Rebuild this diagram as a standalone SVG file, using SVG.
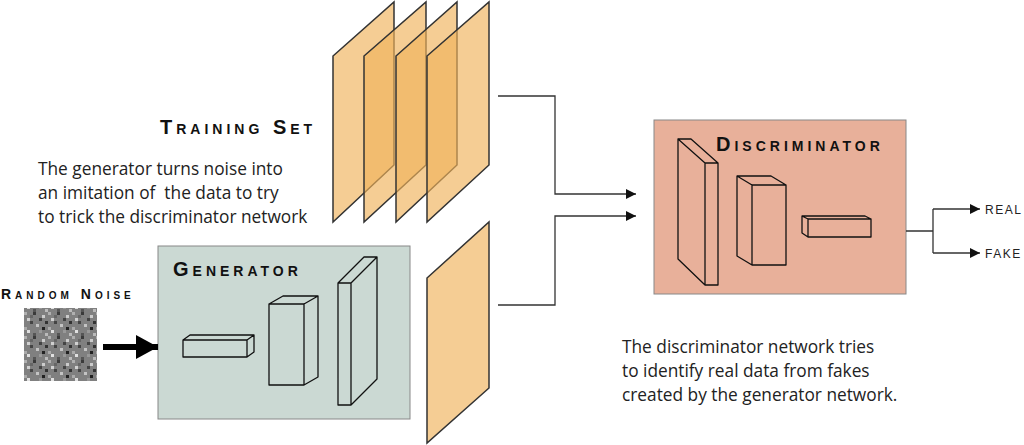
<svg xmlns="http://www.w3.org/2000/svg" width="1024" height="445" viewBox="0 0 1024 445">
<style>
.pl{fill:#f0b25a;fill-opacity:0.65;stroke:#333;stroke-width:1.5}
.sh{fill:none;stroke:#111;stroke-width:1.3;stroke-linejoin:round}
.ttl{font-family:"Liberation Sans",Arial,sans-serif;font-variant:small-caps;font-weight:bold;letter-spacing:4px;fill:#111}
.txt{font-family:"Open Sans","Liberation Sans",sans-serif;font-size:17.3px;fill:#222}
.ln{fill:none;stroke:#333;stroke-width:1.3}
.sm{font-family:"Liberation Sans",Arial,sans-serif;font-size:12px;letter-spacing:1.5px;fill:#222}
</style>
<defs>
<marker id="ah" viewBox="0 0 10 10" refX="10" refY="5" markerWidth="10" markerHeight="10" markerUnits="userSpaceOnUse" orient="auto"><path d="M0,0L10,5L0,10z" fill="#111"/></marker>
<marker id="big" viewBox="0 0 10 10" refX="10" refY="5" markerWidth="22" markerHeight="24" markerUnits="userSpaceOnUse" orient="auto" preserveAspectRatio="none"><path d="M0,0L10,5L0,10z" fill="#000"/></marker>
<pattern id="nz" width="24" height="24" patternUnits="userSpaceOnUse">
<rect width="24" height="24" fill="#808080"/>
<rect x="0" y="0" width="3" height="3" fill="#b0b0b0"/><rect x="9" y="0" width="3" height="3" fill="#3a3a3a"/><rect x="18" y="3" width="3" height="3" fill="#ccc"/>
<rect x="3" y="6" width="3" height="3" fill="#d0d0d0"/><rect x="15" y="6" width="3" height="3" fill="#444"/><rect x="21" y="9" width="3" height="3" fill="#333"/>
<rect x="6" y="9" width="3" height="3" fill="#444"/><rect x="12" y="12" width="3" height="3" fill="#c4c4c4"/><rect x="0" y="15" width="3" height="3" fill="#aaa"/>
<rect x="18" y="15" width="3" height="3" fill="#222"/><rect x="3" y="18" width="3" height="3" fill="#e0e0e0"/><rect x="9" y="21" width="3" height="3" fill="#555"/>
<rect x="21" y="21" width="3" height="3" fill="#bbb"/><rect x="15" y="18" width="3" height="3" fill="#999"/><rect x="6" y="3" width="3" height="3" fill="#666"/>
</pattern>
</defs>
<g id="training-set">
<polygon class="pl" points="333,56 394,2 394,165 333,222"/>
<polygon class="pl" points="364,56 426,2 426,165 364,222"/>
<polygon class="pl" points="396,56 457,2 457,165 396,222"/>
<polygon class="pl" points="427,56 489,2 489,165 427,222"/>
<text class="ttl" x="160" y="134" font-size="20">Training Set</text>
</g>
<g id="fake-sample"><polygon class="pl" points="427,278 489,222 489,388 427,443"/></g>
<text class="txt" x="38" y="175" xml:space="preserve">The generator turns noise into</text>
<text class="txt" x="38" y="199" xml:space="preserve">an imitation of  the data to try</text>
<text class="txt" x="38" y="223" xml:space="preserve">to trick the discriminator network</text>
<g id="random-noise">
<text class="ttl" x="1" y="299" font-size="14" letter-spacing="1.6">Random Noise</text>
<rect x="24" y="308" width="73" height="73" fill="url(#nz)"/>
</g>
<g id="generator">
<rect x="158" y="246" width="252" height="173" fill="#cbd9d3" stroke="#888" stroke-width="1"/>
<text class="ttl" x="173" y="276" font-size="20">Generator</text>
<path class="sh" d="M183,340h64v17h-64zM183,340l7,-5h64l-7,5M247,357l7,-5v-17"/>
<path class="sh" d="M269,304h35v81h-35zM269,304l14,-8h35l-14,8M304,385l14,-8v-81"/>
<path class="sh" d="M338,283h13v122h-13zM338,283l26,-26h13l-26,26M351,405l26,-26v-122"/>
</g>
<g id="discriminator">
<rect x="654" y="120" width="252" height="174" fill="#e8b09a" stroke="#888" stroke-width="1"/>
<text class="ttl" x="716" y="151" font-size="20">Discriminator</text>
<path class="sh" d="M705,163h13v122h-13zM705,163l-27,-24v120l27,26M678,139h13l27,24"/>
<path class="sh" d="M752,185h34v80h-34zM752,185l-15,-9v80l15,9M737,176h34l15,9"/>
<path class="sh" d="M808,219h63v18h-63zM808,219l-6,-3v17l6,4M802,216h63l6,3"/>
</g>
<g id="connectors">
<line x1="103" y1="347" x2="158" y2="347" stroke="#000" stroke-width="6" marker-end="url(#big)"/>
<path class="ln" d="M498,96H555V194H636" marker-end="url(#ah)"/>
<path class="ln" d="M498,305H555V216H636" marker-end="url(#ah)"/>
<path class="ln" d="M906,231H933M933,209V253"/>
<path class="ln" d="M933,209H980" marker-end="url(#ah)"/>
<path class="ln" d="M933,253H980" marker-end="url(#ah)"/>
</g>
<text class="sm" x="985" y="214">REAL</text>
<text class="sm" x="985" y="258">FAKE</text>
<text class="txt" x="622" y="353">The discriminator network tries</text>
<text class="txt" x="622" y="377">to identify real data from fakes</text>
<text class="txt" x="622" y="401">created by the generator network.</text>
</svg>
